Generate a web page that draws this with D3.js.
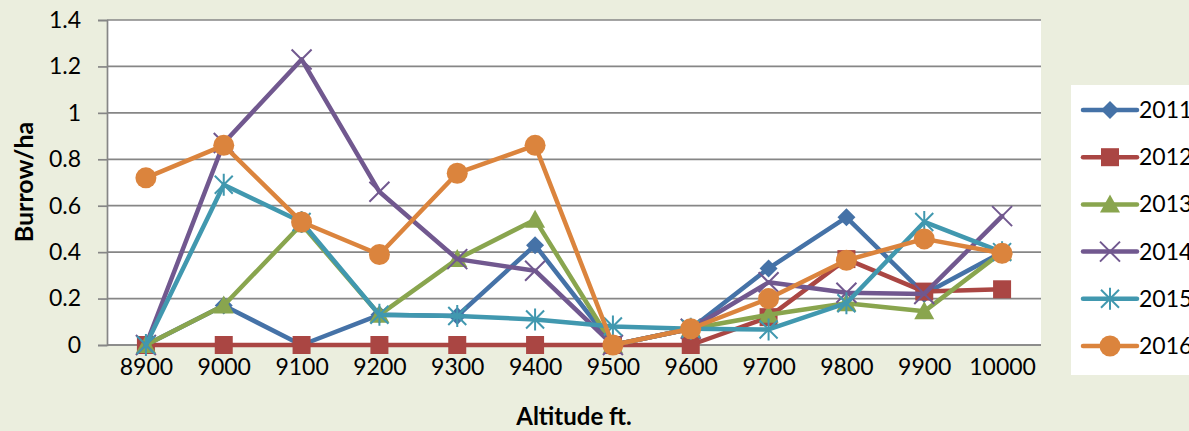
<!DOCTYPE html>
<html>
<head>
<meta charset="utf-8">
<script src="https://cdn.jsdelivr.net/npm/d3@7"></script>
<style>
  html, body { margin: 0; padding: 0; background: #EBEEDE; }
  svg { display: block; font-family: Lato, "Open Sans", sans-serif; }
</style>
</head>
<body>
<svg id="chart" width="1189" height="431"></svg>
<script>
// Burrow density by altitude band, one line per survey year
const altitudes = ["8900", "9000", "9100", "9200", "9300", "9400", "9500", "9600", "9700", "9800", "9900", "10000"];
const years = ["2011", "2012", "2013", "2014", "2015", "2016"];
const y2011 = [0, 0.17, 0, 0.13, 0.125, 0.43, 0, 0.07, 0.33, 0.55, 0.22, 0.40];
const y2012 = [0, 0, 0, 0, 0, 0, 0, 0, 0.12, 0.37, 0.23, 0.24];
const y2013 = [0, 0.17, 0.52, 0.13, 0.37, 0.54, 0, 0.07, 0.13, 0.18, 0.145, 0.40];
const y2014 = [0, 0.87, 1.23, 0.66, 0.37, 0.32, 0, 0.07, 0.27, 0.225, 0.22, 0.555];
const y2015 = [0, 0.69, 0.53, 0.13, 0.125, 0.11, 0.08, 0.07, 0.067, 0.18, 0.53, 0.40];
const y2016 = [0.72, 0.86, 0.53, 0.39, 0.74, 0.86, 0, 0.07, 0.20, 0.365, 0.457, 0.395];
const yTicks = [0, 0.2, 0.4, 0.6, 0.8, 1, 1.2, 1.4];

const seriesValues = [y2011, y2012, y2013, y2014, y2015, y2016];
const colors = ["#4572A7", "#AA4643", "#89A54E", "#71588F", "#4198AF", "#DB843D"];
const symbols = ["diamond", "square", "triangle", "cross", "star", "circle"];

const svg = d3.select("#chart");
const plot = { left: 107, right: 1041, top: 20, bottom: 345 };

const x = d3.scalePoint().domain(altitudes).range([plot.left, plot.right]).padding(0.5);
const y = d3.scaleLinear().domain([0, 1.4]).range([plot.bottom, plot.top]);

// plot area
svg.append("rect")
  .attr("x", plot.left).attr("y", plot.top)
  .attr("width", plot.right - plot.left).attr("height", plot.bottom - plot.top)
  .attr("fill", "#fff");

// horizontal gridlines
svg.append("g").selectAll("line").data(yTicks).join("line")
  .attr("x1", plot.left).attr("x2", plot.right)
  .attr("y1", d => y(d)).attr("y2", d => y(d))
  .attr("stroke", "#868686").attr("stroke-width", 1.7);

// y axis
const yAxis = svg.append("g")
  .attr("transform", `translate(${plot.left},0)`)
  .call(d3.axisLeft(y).tickValues(yTicks).tickSize(9).tickPadding(17).tickFormat(d3.format("~g")));
yAxis.select(".domain").attr("stroke", "#868686").attr("stroke-width", 1.7);
yAxis.selectAll(".tick line").attr("stroke", "#868686").attr("stroke-width", 1.7);
yAxis.selectAll("text").attr("font-size", 23).attr("fill", "#000").attr("font-family", "Lato, sans-serif");

// x axis
const xAxis = svg.append("g")
  .attr("transform", `translate(0,${plot.bottom})`)
  .call(d3.axisBottom(x).tickSize(0).tickPadding(14));
xAxis.select(".domain").attr("d", `M${plot.left},0H${plot.right}`).attr("stroke", "#868686").attr("stroke-width", 1.7);
xAxis.selectAll("text").attr("font-size", 23).attr("fill", "#000").attr("font-family", "Lato, sans-serif");

// axis titles
svg.append("text")
  .attr("transform", "translate(33,182) rotate(-90)")
  .attr("text-anchor", "middle")
  .attr("font-size", 25).attr("font-weight", "bold")
  .text("Burrow/ha");
svg.append("text")
  .attr("x", 574).attr("y", 425)
  .attr("text-anchor", "middle")
  .attr("font-size", 24).attr("font-weight", "bold")
  .text("Altitude ft.");

// marker drawing
function drawMarker(g, type, color) {
  if (type === "diamond") {
    g.append("path").attr("d", "M0,-9L9,0L0,9L-9,0Z").attr("fill", color);
  } else if (type === "square") {
    g.append("rect").attr("x", -9).attr("y", -9).attr("width", 18).attr("height", 18).attr("fill", color);
  } else if (type === "triangle") {
    g.append("path").attr("d", "M0,-10L10,8L-10,8Z").attr("fill", color);
  } else if (type === "cross") {
    g.append("path").attr("d", "M-10,-10L10,10M-10,10L10,-10").attr("stroke", color).attr("stroke-width", 2).attr("fill", "none");
  } else if (type === "star") {
    g.append("path").attr("d", "M-9,-9L9,9M-9,9L9,-9M0,-11V11").attr("stroke", color).attr("stroke-width", 2).attr("fill", "none");
  } else {
    g.append("circle").attr("r", 10.5).attr("fill", color);
  }
}

const line = d3.line().x((d, i) => x(altitudes[i])).y(d => y(d));

seriesValues.forEach((vals, s) => {
  const g = svg.append("g");
  g.append("path").datum(vals)
    .attr("d", line)
    .attr("fill", "none")
    .attr("stroke", colors[s])
    .attr("stroke-width", 4.5)
    .attr("stroke-linejoin", "round")
    .attr("stroke-linecap", "round");
  vals.forEach((v, i) => {
    const m = g.append("g").attr("transform", `translate(${x(altitudes[i])},${y(v)})`);
    drawMarker(m, symbols[s], colors[s]);
  });
});

// legend (panel runs past the right edge of the canvas)
const legend = svg.append("g");
legend.append("rect")
  .attr("x", 1071).attr("y", 85).attr("width", 140).attr("height", 290)
  .attr("fill", "#fff");
const legendY = d3.scalePoint().domain(years).range([110, 346]);
years.forEach((yr, s) => {
  const ly = legendY(yr);
  legend.append("line")
    .attr("x1", 1083).attr("x2", 1137).attr("y1", ly).attr("y2", ly)
    .attr("stroke", colors[s]).attr("stroke-width", 4.5).attr("stroke-linecap", "round");
  const m = legend.append("g").attr("transform", `translate(1110,${ly})`);
  drawMarker(m, symbols[s], colors[s]);
  legend.append("text")
    .attr("x", 1139).attr("y", ly).attr("dy", "0.35em")
    .attr("font-size", 23).text(yr);
});
</script>
</body>
</html>
